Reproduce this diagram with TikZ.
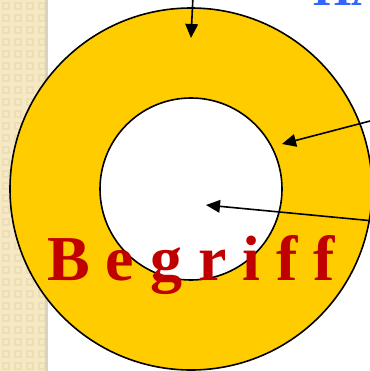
\documentclass[tikz,border=0pt]{standalone}
\usepackage{fontspec}
\setmainfont{Liberation Serif}
\usetikzlibrary{arrows.meta}

\definecolor{ringyellow}{RGB}{255,204,0}
\definecolor{wordred}{RGB}{192,0,0}
\definecolor{titleblue}{RGB}{51,102,255}
\definecolor{stripbeige}{RGB}{246,232,194}
\definecolor{stripcell}{RGB}{236,222,182}
\definecolor{stripedge}{RGB}{218,210,190}

\tikzset{
  pointer/.style={line width=1.2pt, -{Triangle[length=10.5pt,width=9.5pt]}},
  ringline/.style={draw=black, line width=1.2pt}
}

\begin{document}
\begin{tikzpicture}[x=0.75pt,y=0.75pt,yscale=-1]
        \useasboundingbox (0,0) rectangle (370,371);
        \clip (0,0) rectangle (370,371);

        %Left strip
        \fill [stripbeige] (0,0) rectangle (46,371);
        \foreach \i in {0,...,3}
          \foreach \j in {0,...,30}
            \draw [stripcell, line width=1.5pt] (\i*12+3,\j*12+3) rectangle ++(6,6);
        \fill [stripedge] (45,0) rectangle (48,371);

        %Shape: Circles
        \coordinate (centre) at (191,189);
        \draw [ringline, fill=ringyellow] (centre) circle (181);
        \draw [ringline, fill=white] (centre) circle (91);

        % Text Node
        \node [anchor=base west, inner sep=0pt, text=wordred, font=\fontsize{48}{58}\selectfont\bfseries] (word) at (47,280) {B e g r i f f};
        % Text Node
        \node [anchor=base west, inner sep=0pt, text=titleblue, font=\fontsize{37}{44}\selectfont\bfseries] (title) at (313,6) {HA};

        %Arrows
        \coordinate (top in) at (193,-4);
        \coordinate (top tip) at (191,38);
        \coordinate (ring in) at (374,120);
        \coordinate (ring tip) at (282,144);
        \coordinate (hole in) at (374,221);
        \coordinate (hole tip) at (206,205);
        \draw [pointer] (top in) -- (top tip);
        \draw [pointer] (ring in) -- (ring tip);
        \draw [pointer] (hole in) -- (hole tip);
\end{tikzpicture}
\end{document}
